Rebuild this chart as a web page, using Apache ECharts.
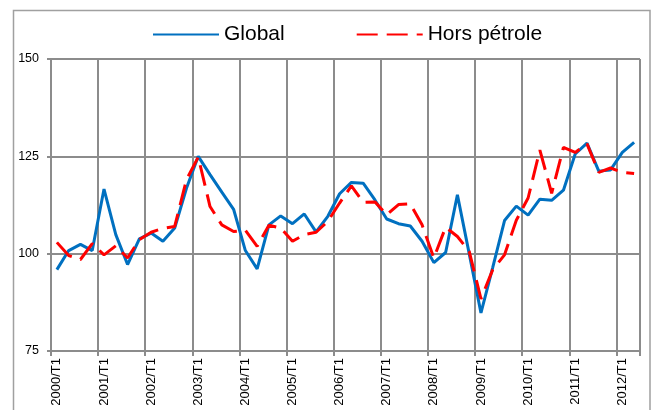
<!DOCTYPE html>
<html>
<head>
<meta charset="utf-8">
<script src="https://cdn.jsdelivr.net/npm/echarts@6/dist/echarts.min.js"></script>
<style>
html,body{margin:0;padding:0;background:#fff;}
#chart{width:656px;height:410px;}
</style>
</head>
<body>
<div id="chart"></div>
<script>
var categories = [
  "2000/T1","2000/T2","2000/T3","2000/T4",
  "2001/T1","2001/T2","2001/T3","2001/T4",
  "2002/T1","2002/T2","2002/T3","2002/T4",
  "2003/T1","2003/T2","2003/T3","2003/T4",
  "2004/T1","2004/T2","2004/T3","2004/T4",
  "2005/T1","2005/T2","2005/T3","2005/T4",
  "2006/T1","2006/T2","2006/T3","2006/T4",
  "2007/T1","2007/T2","2007/T3","2007/T4",
  "2008/T1","2008/T2","2008/T3","2008/T4",
  "2009/T1","2009/T2","2009/T3","2009/T4",
  "2010/T1","2010/T2","2010/T3","2010/T4",
  "2011/T1","2011/T2","2011/T3","2011/T4",
  "2012/T1","2012/T2"
];
var globalValues = [
  95.9,100.8,102.4,100.8,
  116.6,104.9,97.2,103.8,
  105.3,103.2,106.6,116.8,
  125.0,120.3,115.8,111.4,
  100.8,96.1,107.4,109.7,
  107.7,110.2,105.6,109.6,
  115.4,118.3,118.1,113.8,
  108.9,107.7,107.1,103.2,
  97.7,100.3,115.1,100.0,
  84.8,96.5,108.5,112.2,
  109.9,114.0,113.7,116.3,
  125.6,128.4,121.2,121.5,
  126.0,128.6
];
var horsPetroleValues = [
  102.9,99.5,98.5,102.6,
  99.7,102.0,98.9,103.6,
  105.5,106.5,107.0,119.0,
  124.8,112.1,107.4,105.7,
  106.0,101.9,107.3,106.6,
  103.2,104.9,105.5,108.3,
  113.0,117.4,113.2,113.3,
  110.0,112.6,112.8,107.4,
  98.9,106.8,104.4,100.6,
  88.4,95.9,99.7,108.6,
  114.3,126.6,115.5,127.3,
  126.0,128.2,120.9,122.0,
  120.9,120.6
];
var seriesNames = ["Global", "Hors pétrole"];
var yMin = 75, yMax = 150, yStep = 25;

var chart = echarts.init(document.getElementById('chart'), null, {renderer: 'canvas'});
var gridColor = '#8c8c8c';
var fontFam = '"Liberation Sans", Arial, sans-serif';
chart.setOption({
  animation: false,
  backgroundColor: '#ffffff',
  textStyle: {fontFamily: fontFam},
  graphic: [{
    type: 'rect',
    shape: {x: 13.5, y: 10.5, width: 636.5, height: 420},
    style: {fill: 'none', stroke: '#a0a0a0', lineWidth: 1.5},
    silent: true
  }],
  legend: {
    data: seriesNames,
    left: 147,
    top: 19,
    itemWidth: 66,
    itemHeight: 14,
    itemGap: 71,
    itemStyle: {opacity: 0},
    textStyle: {fontSize: 21, color: '#000', fontFamily: fontFam}
  },
  grid: {left: 51, right: 16, top: 59, bottom: 59, containLabel: false},
  xAxis: {
    type: 'category',
    data: categories,
    boundaryGap: true,
    axisLine: {lineStyle: {color: gridColor, width: 2}},
    axisTick: {show: true, interval: 3, length: 5, lineStyle: {color: gridColor, width: 2}},
    splitLine: {show: true, interval: 3, lineStyle: {color: gridColor, width: 2}},
    axisLabel: {interval: 3, rotate: 90, margin: 7, fontSize: 13, color: '#000', fontFamily: fontFam}
  },
  yAxis: {
    type: 'value',
    min: yMin, max: yMax, interval: yStep,
    axisLine: {show: true, lineStyle: {color: gridColor, width: 2}},
    axisTick: {show: true, length: 4, lineStyle: {color: gridColor, width: 2}},
    splitLine: {show: true, lineStyle: {color: gridColor, width: 2}},
    axisLabel: {margin: 12, fontSize: 12.5, color: '#000', fontFamily: fontFam}
  },
  series: [{
    name: seriesNames[0],
    type: 'line',
    data: globalValues,
    symbol: 'none',
    lineStyle: {color: '#0070C0', width: 3},
    itemStyle: {color: '#0070C0'},
    z: 3
  }, {
    name: seriesNames[1],
    type: 'line',
    data: horsPetroleValues,
    symbol: 'none',
    lineStyle: {color: '#FF0000', width: 3, type: [21, 9]},
    itemStyle: {color: '#FF0000'},
    z: 4
  }]
});
</script>
</body>
</html>
